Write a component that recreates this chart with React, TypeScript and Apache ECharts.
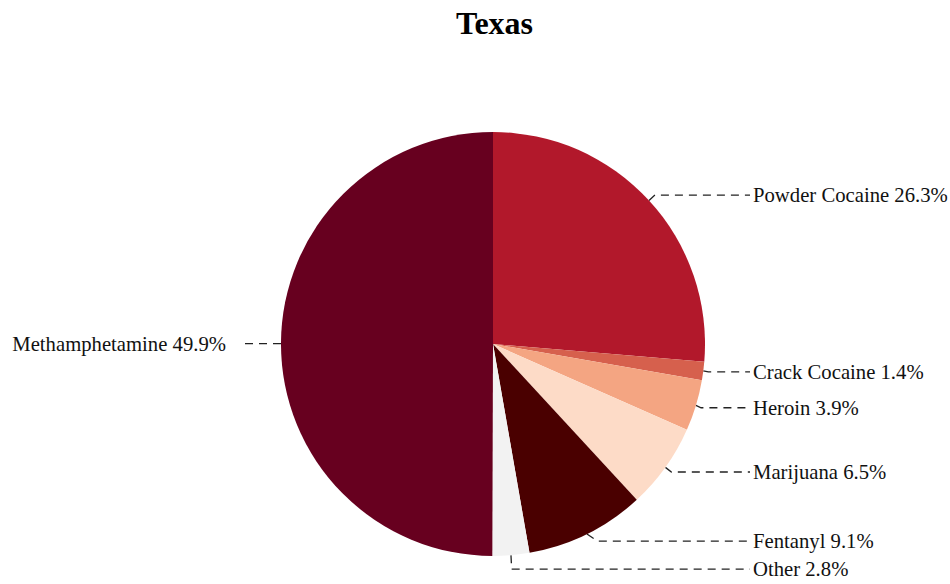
import React, { useEffect, useRef } from "react";
import * as echarts from "echarts";

const categories = ["Powder Cocaine", "Crack Cocaine", "Heroin", "Marijuana", "Fentanyl", "Other", "Methamphetamine"];
const shares = [26.3, 1.4, 3.9, 6.5, 9.1, 2.8, 49.9];
const colors = ["#b2182b", "#d6604d", "#f4a582", "#fddbc7", "#4a0000", "#f2f2f2", "#67001f"];
const titleText = "Texas";

export default function App() {
  const ref = useRef<HTMLDivElement>(null);
  useEffect(() => {
    if (!ref.current) return;
    const chart = echarts.init(ref.current, null, { renderer: "svg" });
    const font = "'Liberation Serif', 'Times New Roman', serif";
    const cx = 493;
    const rightTextX = 753;
    const rightLineEnd = 750;
    const leftTextX = 226;
    const leftLineEnd = 240;
    chart.setOption({
      animation: false,
      backgroundColor: "#ffffff",
      title: {
        text: titleText,
        left: 451,
        top: 2,
        textStyle: { fontFamily: font, fontSize: 32, fontWeight: "bold", color: "#000" },
      },
      series: [
        {
          type: "pie",
          center: [cx, 344],
          radius: 212,
          startAngle: 90,
          clockwise: true,
          avoidLabelOverlap: true,
          data: categories.map((c, i) => ({ name: c, value: shares[i], itemStyle: { color: colors[i] } })),
          itemStyle: { borderWidth: 0 },
          label: {
            show: true,
            position: "outside",
            distanceToLabelLine: 3,
            fontFamily: font,
            fontSize: 20.7,
            lineHeight: 26,
            color: "#111",
            overflow: "none",
            formatter: (p: any) => `${p.name} ${p.value}%`,
          },
          labelLine: {
            show: true,
            length: 8,
            length2: 20,
            lineStyle: { color: "#222", width: 1.3, type: [8, 6] },
          },
          labelLayout: (p: any) => {
            const pts = p.labelLinePoints;
            if (!pts || pts.length < 3) return {};
            const isLeft = pts[2][0] < cx;
            const y = pts[2][1];
            const newPts = [
              [pts[0][0], pts[0][1]],
              [pts[1][0], pts[1][1]],
              [isLeft ? leftLineEnd : rightLineEnd, y],
            ];
            return {
              x: isLeft ? leftTextX : rightTextX,
              y: y,
              align: isLeft ? "right" : "left",
              verticalAlign: "middle",
              labelLinePoints: newPts,
            };
          },
          emphasis: { disabled: true },
        },
      ],
    });
    return () => chart.dispose();
  }, []);
  return <div ref={ref} style={{ position: "absolute", left: 0, top: 0, width: 950, height: 584 }} />;
}
